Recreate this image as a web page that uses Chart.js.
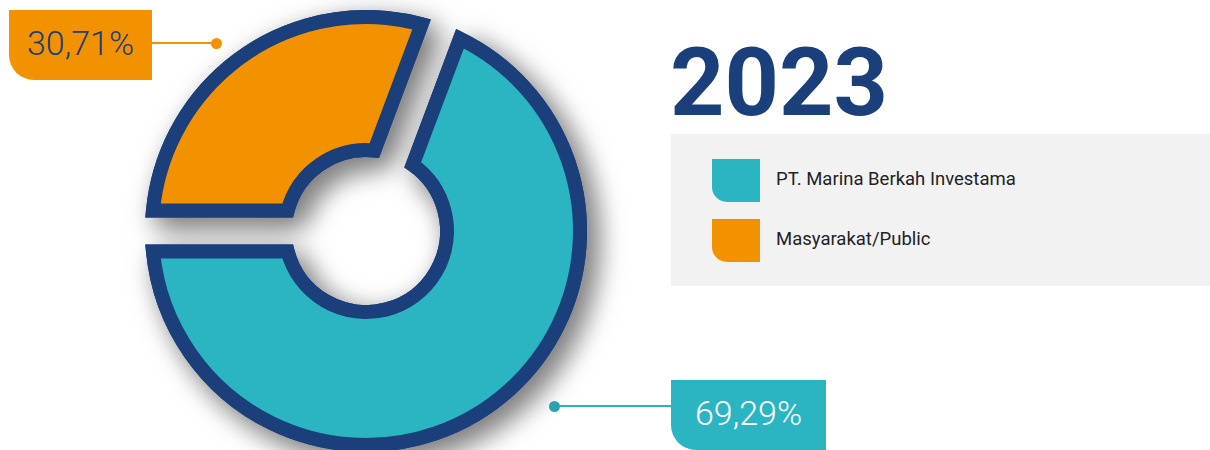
<!DOCTYPE html>
<html>
<head>
<meta charset="utf-8">
<script src="https://cdn.jsdelivr.net/npm/chart.js@4"></script>
<style>
  html, body { margin: 0; padding: 0; background: #fff; }
  body { width: 1210px; height: 450px; overflow: hidden; position: relative; font-family: Roboto, "Noto Sans", sans-serif; }
  #wrap { position: absolute; left: 0; top: 0; width: 1210px; height: 470px; }
  .tag { position: absolute; height: 70px; line-height: 66px; font-size: 34px; font-weight: 300; text-align: center; }
  .wire { position: absolute; height: 2px; }
  .dot { position: absolute; width: 11px; height: 11px; border-radius: 50%; }
  #year { position: absolute; left: 670px; top: 28px; font-size: 95px; font-weight: 700; color: #1b3f7b; line-height: 110px; }
  #legend { position: absolute; left: 671px; top: 134px; width: 539px; height: 152px; background: #f2f2f2; }
  .item { position: absolute; left: 41px; height: 43px; }
  .sw { position: absolute; left: 0; top: 0; width: 48px; height: 43px; border-bottom-left-radius: 15px; }
  .lbl { position: absolute; left: 64px; top: -1px; line-height: 43px; font-size: 18.5px; color: #222; white-space: nowrap; }
</style>
</head>
<body>
<div id="wrap"><canvas id="pie"></canvas></div>

<div class="wire" style="left:152px; top:42px; width:62px; background:#f39200"></div>
<div class="dot" style="left:211px; top:38px; background:#f39200"></div>
<div class="tag" id="tagOrange" style="left:9px; top:10px; width:143px; background:#f39200; color:#1b3f7b; border-bottom-left-radius:25px"></div>

<div class="wire" style="left:556px; top:405px; width:116px; background:#2bb5c3"></div>
<div class="dot" style="left:549px; top:401px; background:#27a3b0"></div>
<div class="tag" id="tagTeal" style="left:671px; top:380px; width:155px; background:#2bb5c3; color:#fff; border-bottom-left-radius:25px"></div>

<div id="year"></div>
<div id="legend"></div>

<script>
const title = "2023";
const categories = ["PT. Marina Berkah Investama", "Masyarakat/Public"];
const shares = [69.29, 30.71];
const colors = ["#2bb5c3", "#f39200"];
const edge = "#1b3f7b";
const gap = 41; // distance between the slice outlines

function fmt(v) {
    return v.toFixed(2).replace(".", ",") + "%";
}

document.getElementById("year").textContent = title;
document.getElementById("tagTeal").textContent = fmt(shares[0]);
document.getElementById("tagOrange").textContent = fmt(shares[1]);

var legend = document.getElementById("legend");
categories.forEach(function (name, i) {
    var row = document.createElement("div");
    row.className = "item";
    row.style.top = (25 + i * 60) + "px";
    row.innerHTML = '<div class="sw" style="background:' + colors[i] + '"></div><div class="lbl"></div>';
    row.querySelector(".lbl").textContent = name;
    legend.appendChild(row);
});

// slice outline with straight, even-width gaps (chart.js spacing tapers them)
function slicePath(c, arc) {
    var h = gap / 2;
    var R = arc.outerRadius, r = arc.innerRadius;
    var a0 = arc.startAngle, a1 = arc.endAngle;
    var o0 = a0 + Math.asin(h / R), o1 = a1 - Math.asin(h / R);
    var i0 = a0 + Math.asin(h / r), i1 = a1 - Math.asin(h / r);
    c.beginPath();
    c.arc(arc.x, arc.y, R, o0, o1);
    c.lineTo(arc.x + r * Math.cos(i1), arc.y + r * Math.sin(i1));
    c.arc(arc.x, arc.y, r, i1, i0, true);
    c.closePath();
}

function paintSlices(chart) {
    var c = chart.ctx;
    chart.getDatasetMeta(0).data.forEach(function (arc) {
        slicePath(c, arc);
        c.fillStyle = arc.options.backgroundColor;
        c.fill();
        c.lineWidth = arc.options.borderWidth;
        c.strokeStyle = arc.options.borderColor;
        c.lineJoin = "miter";
        c.stroke();
    });
}

const sliceDraw = {
    id: "sliceDraw",
    beforeDatasetsDraw(chart) {
        var c = chart.ctx;
        // shadow pass first, then a clean pass on top of it
        c.save();
        c.shadowColor = "rgba(0,0,0,0.5)";
        c.shadowBlur = 28;
        c.shadowOffsetX = 10;
        c.shadowOffsetY = 10;
        paintSlices(chart);
        c.restore();
        c.save();
        paintSlices(chart);
        c.restore();
        return false;
    }
};

// the second slice ends at 9 o'clock
var rotation = -90 + 360 * shares[1] / 100;

const ctx = document.getElementById("pie");
var cht = new Chart(ctx, {
    type: "doughnut",
    data: {
        labels: categories,
        datasets: [{
            data: shares,
            backgroundColor: colors,
            borderColor: edge,
            borderWidth: 14,
            rotation: rotation
        }]
    },
    options: {
        responsive: true,
        maintainAspectRatio: false,
        animation: false,
        cutout: "37.85%",
        layout: { padding: { left: 145, top: 10, right: 623, bottom: 18 } },
        plugins: {
            legend: { display: false },
            tooltip: { enabled: false }
        }
    },
    plugins: [sliceDraw]
});
</script>
</body>
</html>
